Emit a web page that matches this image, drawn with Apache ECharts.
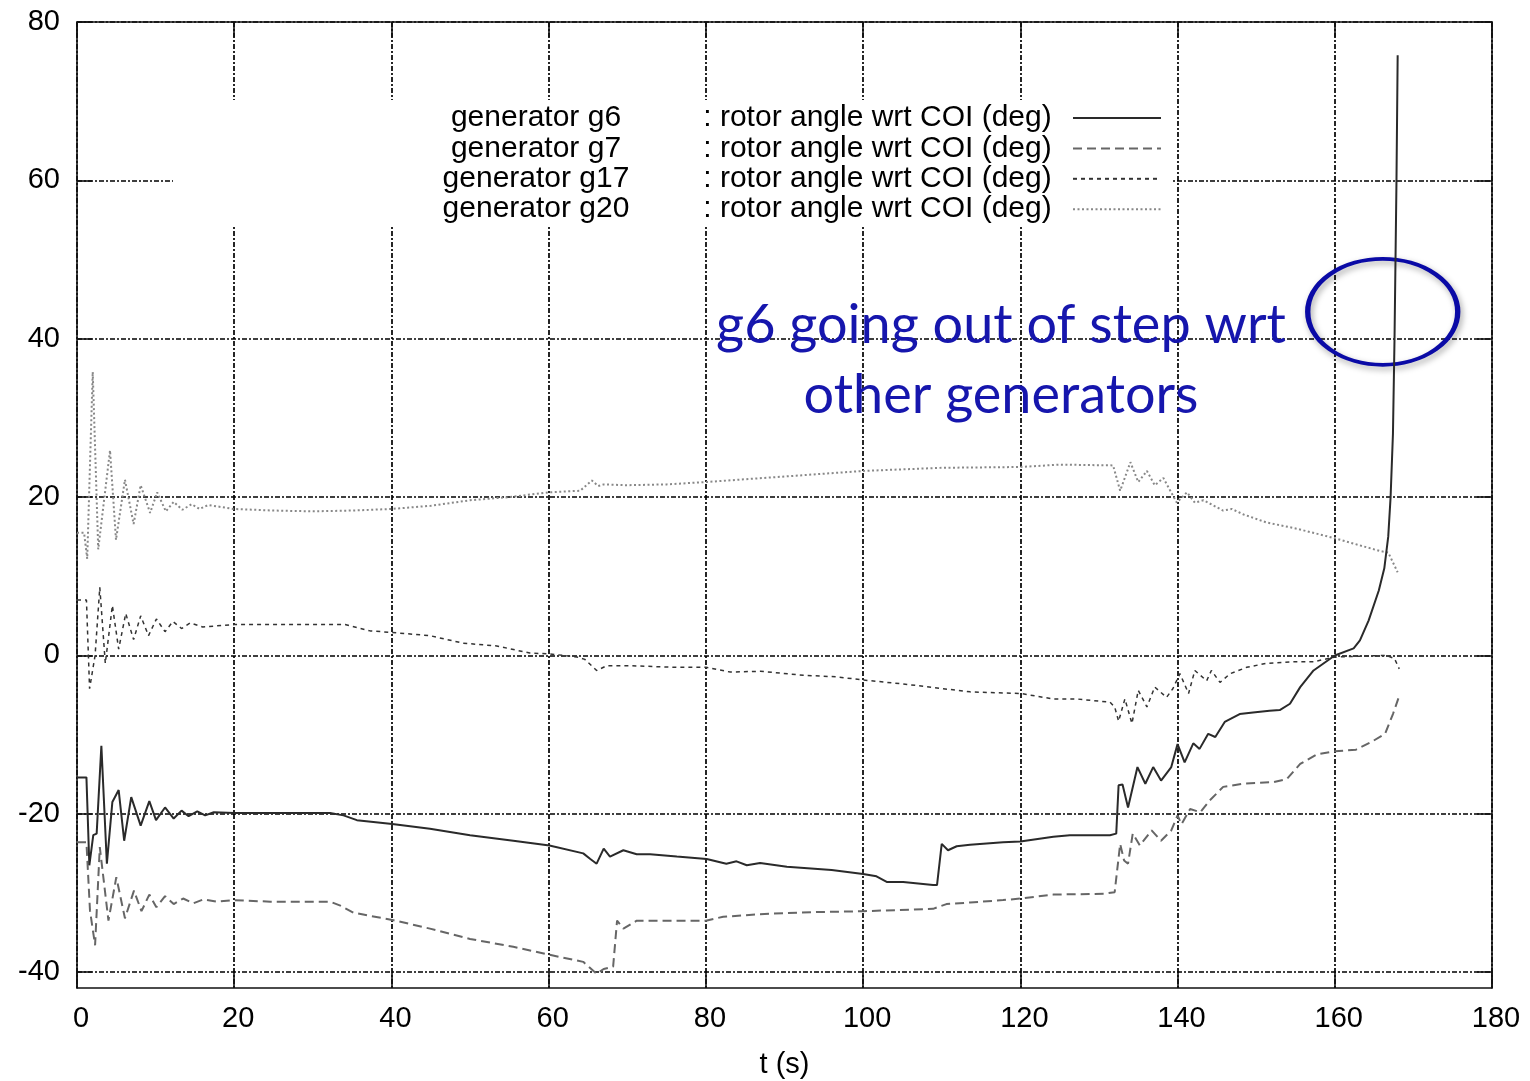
<!DOCTYPE html>
<html>
<head>
<meta charset="utf-8">
<script src="https://cdn.jsdelivr.net/npm/echarts@6/dist/echarts.min.js"></script>
<style>
html, body { margin: 0; padding: 0; background: #fff; }
#chart { width: 1530px; height: 1081px; }
</style>
</head>
<body>
<div id="chart"></div>
<script>
// time (s) and rotor angle wrt COI (deg)
const g6T = [0, 1.2, 1.57, 2.07, 2.5, 3.1, 3.8, 4.5, 5.3, 6.0, 6.9, 8.1, 9.2, 10.05, 11.2, 12.3, 13.3, 14.2, 15.3, 16.3, 17.4, 20, 25, 32.2, 33.9, 35.6, 40.1, 44.9, 50, 55.5, 60.1, 64.4, 65.3, 66.1, 67, 67.8, 69.5, 71.2, 72.9, 76.3, 80.1, 82.6, 83.9, 85.2, 86.9, 90.3, 96, 100, 101.7, 103, 105.1, 108.9, 109.4, 110, 110.8, 111.9, 113.6, 117.8, 120, 124.2, 126.3, 131.4, 132.2, 132.5, 133, 133.7, 134.9, 135.9, 136.9, 137.9, 139.2, 140, 140.9, 142, 142.8, 143.9, 144.8, 146, 147.9, 149.6, 151.7, 153, 154.3, 155.6, 157.3, 160, 162.4, 163.2, 164.3, 165.6, 166.3, 166.8, 167.1, 167.4, 167.6, 167.85, 168];
const g6Y = [-15.4, -15.4, -26.5, -22.7, -22.5, -11.4, -26.3, -18.5, -17.0, -23.4, -17.9, -21.5, -18.4, -20.8, -19.2, -20.6, -19.6, -20.3, -19.7, -20.2, -19.8, -19.9, -19.9, -19.9, -20.2, -20.8, -21.3, -21.9, -22.7, -23.4, -24.0, -25.0, -25.7, -26.3, -24.4, -25.4, -24.6, -25.1, -25.1, -25.4, -25.7, -26.3, -26.0, -26.5, -26.2, -26.7, -27.1, -27.6, -27.9, -28.6, -28.6, -29.0, -29.0, -23.8, -24.6, -24.1, -23.9, -23.6, -23.5, -22.9, -22.7, -22.7, -22.5, -16.4, -16.3, -19.2, -14.1, -16.2, -14.1, -15.8, -14.1, -11.2, -13.5, -11.1, -11.8, -9.9, -10.3, -8.4, -7.4, -7.2, -7.0, -6.9, -6.1, -4.0, -1.9, 0.0, 0.9, 1.9, 4.4, 8.2, 11, 15, 20, 28, 40, 60, 75.8];

const g7T = [0, 1.2, 1.65, 2.3, 2.9, 4.0, 5.0, 6.1, 7.25, 8.2, 9.2, 10.1, 11.2, 12.3, 13.5, 14.8, 16.1, 17.8, 20, 24.6, 32.2, 33.5, 35.2, 40.1, 44.9, 50, 55.5, 60.1, 64.4, 66.1, 67, 68.2, 68.7, 69.5, 71.2, 76.3, 80, 82.2, 88.2, 94.5, 100, 106, 108.9, 110.6, 113.6, 117.8, 120, 124.2, 130.6, 132, 132.7, 133.2, 133.7, 134.3, 135.2, 136.7, 137.9, 139.2, 140, 140.5, 141.6, 142.9, 144.1, 145.8, 148.4, 152.2, 153.9, 155.6, 157.7, 160, 162.7, 164.7, 166.4, 167.4, 168.2];
const g7Y = [-23.6, -23.6, -32.2, -36.6, -24.2, -33.5, -28.0, -33.2, -29.7, -32.3, -30.2, -31.8, -30.4, -31.4, -30.7, -31.3, -30.8, -31.1, -30.9, -31.1, -31.1, -31.6, -32.5, -33.4, -34.5, -35.8, -36.8, -37.8, -38.7, -40.2, -39.6, -39.3, -33.5, -34.5, -33.5, -33.5, -33.5, -33.0, -32.6, -32.4, -32.3, -32.1, -32.0, -31.4, -31.2, -30.9, -30.7, -30.2, -30.1, -29.9, -23.8, -25.9, -26.3, -22.5, -24.0, -22.1, -23.4, -22.1, -20.2, -21.3, -19.4, -19.8, -18.3, -16.6, -16.2, -16.0, -15.6, -13.7, -12.5, -12.1, -11.9, -10.9, -9.9, -7.4, -5.1];

const g17T = [0, 1.2, 1.6, 2.3, 2.9, 3.6, 4.5, 5.3, 6.2, 7.2, 8.1, 9.1, 10.1, 11.2, 12.2, 13.3, 14.4, 16, 20, 34.1, 37.3, 40.1, 44.9, 49.1, 53.4, 57.6, 60.1, 63.6, 64.6, 66.1, 67.4, 70.3, 76.3, 80, 83.1, 86.9, 92.4, 96.6, 100, 105.1, 110.2, 113.6, 120, 124.2, 127.2, 131.4, 132, 132.5, 133.3, 134.2, 135, 136.1, 137.1, 138.6, 139.4, 140.3, 141.4, 142.2, 143.7, 144.3, 145.4, 146.7, 148.8, 151.3, 154.7, 157.3, 160, 163.2, 166.6, 167.6, 168.2];
const g17Y = [7.0, 7.0, -4.2, 0, 8.6, -1.0, 6.3, 0.8, 5.3, 2.0, 5.0, 2.5, 4.6, 3.0, 4.3, 3.4, 4.1, 3.6, 3.9, 3.9, 3.1, 2.9, 2.5, 1.55, 1.2, 0.3, 0.2, -0.2, -0.5, -1.9, -1.3, -1.3, -1.5, -1.5, -2.1, -2.0, -2.5, -2.7, -3.1, -3.6, -4.2, -4.6, -4.8, -5.5, -5.5, -5.9, -6.5, -8.3, -5.5, -8.6, -4.4, -6.5, -4.0, -5.3, -4.2, -2.3, -4.8, -1.9, -3.2, -1.9, -3.4, -2.3, -1.5, -1.0, -0.8, -0.8, -0.2, -0.1, 0.0, -0.4, -1.7];

const g20T = [0, 0.9, 1.3, 2.0, 2.7, 4.2, 4.96, 6.1, 7.2, 8.1, 9.3, 10.2, 11.3, 12.3, 13.4, 14.6, 15.6, 16.7, 19.9, 25, 30, 35, 40, 45, 50, 55, 60, 64, 65.5, 66.3, 67, 70, 75, 80, 90, 100, 110, 120, 125, 131.8, 132.7, 134, 135, 136.1, 137.1, 138.2, 139.9, 141.2, 142.2, 143.3, 145.8, 146.9, 148.4, 151.3, 155.2, 160, 165.7, 166.8, 168];
const g20Y = [15.5, 15.5, 12.2, 35.8, 13.4, 25.9, 14.6, 22.2, 16.6, 21.5, 18.0, 20.6, 18.2, 19.4, 18.4, 19.1, 18.5, 19.0, 18.5, 18.3, 18.2, 18.3, 18.5, 18.9, 19.6, 20.0, 20.6, 20.8, 22.1, 21.4, 21.6, 21.5, 21.6, 21.9, 22.6, 23.3, 23.7, 23.8, 24.1, 24.0, 20.8, 24.4, 21.9, 23.3, 21.5, 22.4, 19.3, 20.6, 19.3, 19.6, 18.3, 18.5, 17.8, 16.8, 16.0, 14.8, 13.2, 13.0, 10.5];

const yTicks = [-40, -20, 0, 20, 40, 60, 80];
const seriesNames = ['generator g6', 'generator g7', 'generator g17', 'generator g20'];
const quantity = ': rotor angle wrt COI (deg)';
const note = 'g6 going out of step wrt\nother generators';
// where the ellipse around the runaway g6 sits (t, deg)
const notePoint = [166.1, 43.4];

const zip = (t, y) => t.map((v, i) => [v, y[i]]);

const chart = echarts.init(document.getElementById('chart'));

const font = 'Liberation Sans';
const gridLine = { color: '#000', width: 1.7, type: [5, 2, 2, 2] };
const frame = { show: true, onZero: false, lineStyle: { color: '#111', width: 1.6 } };
const tick = { show: true, inside: true, length: 15, lineStyle: { color: '#111', width: 1.6 } };

const option = {
  animation: false,
  backgroundColor: '#fff',
  grid: { left: 77, right: 38, top: 22, bottom: 93, outerBoundsMode: 'none' },
  xAxis: [
    {
      type: 'value', min: 0, max: 180, interval: 20,
      name: 't (s)', nameLocation: 'middle', nameGap: 62,
      nameTextStyle: { color: '#000', fontSize: 29, fontFamily: font },
      axisLine: frame, axisTick: tick,
      axisLabel: { color: '#000', fontSize: 29, fontFamily: font, margin: 16, padding: [0, 0, 0, 8] },
      splitLine: { show: true, lineStyle: gridLine }
    },
    {
      type: 'value', position: 'top', min: 0, max: 180, interval: 20,
      axisLine: frame, axisTick: tick, axisLabel: { show: false }, splitLine: { show: false }
    }
  ],
  yAxis: [
    {
      type: 'value', min: -42, max: 80,
      axisLine: frame,
      axisTick: Object.assign({ customValues: yTicks }, tick),
      axisLabel: { customValues: yTicks, color: '#000', fontSize: 29, fontFamily: font, margin: 17 },
      splitLine: { show: true, lineStyle: gridLine }
    },
    {
      type: 'value', position: 'right', min: -42, max: 80,
      axisLine: frame,
      axisTick: Object.assign({ customValues: yTicks }, tick),
      axisLabel: { show: false }, splitLine: { show: false }
    }
  ],
  legend: {
    orient: 'vertical', left: 173, top: 100,
    align: 'right',
    padding: [3, 9, 1, 267],
    backgroundColor: '#fff',
    itemWidth: 88, itemHeight: 14, itemGap: 0.4,
    itemStyle: { opacity: 0 },
    data: seriesNames,
    formatter: name => '{n|' + name + '}{g| }{s|' + quantity + '}',
    textStyle: {
      color: '#000', fontSize: 30, fontFamily: font, lineHeight: 30,
      rich: {
        n: { width: 192, align: 'right', fontSize: 30, fontFamily: font, color: '#000', lineHeight: 30 },
        g: { width: 55, fontSize: 30, fontFamily: font, lineHeight: 30 },
        s: { width: 381, align: 'left', fontSize: 30, fontFamily: font, color: '#000', lineHeight: 30 }
      }
    }
  },
  series: [
    {
      name: seriesNames[0], type: 'line', symbol: 'none', data: zip(g6T, g6Y),
      itemStyle: { color: '#2a2a2a' },
      lineStyle: { color: '#2a2a2a', width: 2, type: 'solid' },
      z: 5,
      markPoint: {
        silent: true,
        symbol: 'circle',
        symbolSize: [150, 106],
        label: { show: false },
        itemStyle: {
          color: 'rgba(0,0,0,0)', borderColor: '#0a0aa6', borderWidth: 4.5, opacity: 1,
          shadowBlur: 6, shadowColor: 'rgba(0,0,0,0.35)', shadowOffsetX: 2, shadowOffsetY: 3
        },
        data: [{ coord: notePoint }]
      }
    },
    {
      name: seriesNames[1], type: 'line', symbol: 'none', data: zip(g7T, g7Y),
      itemStyle: { color: '#666' },
      lineStyle: { color: '#666', width: 2, type: [9, 5] }
    },
    {
      name: seriesNames[2], type: 'line', symbol: 'none', data: zip(g17T, g17Y),
      itemStyle: { color: '#333' },
      lineStyle: { color: '#333', width: 1.5, type: [4, 4] }
    },
    {
      name: seriesNames[3], type: 'line', symbol: 'none', data: zip(g20T, g20Y),
      itemStyle: { color: '#888' },
      lineStyle: { color: '#888', width: 2, type: [2, 2.5] }
    }
  ],
  graphic: [
    {
      type: 'text', x: 1001, y: 291, z: 100,
      style: {
        text: note, fill: '#1616ad', font: '54px Lato',
        align: 'center', verticalAlign: 'top', lineHeight: 70
      }
    }
  ]
};

chart.setOption(option);
</script>
</body>
</html>
